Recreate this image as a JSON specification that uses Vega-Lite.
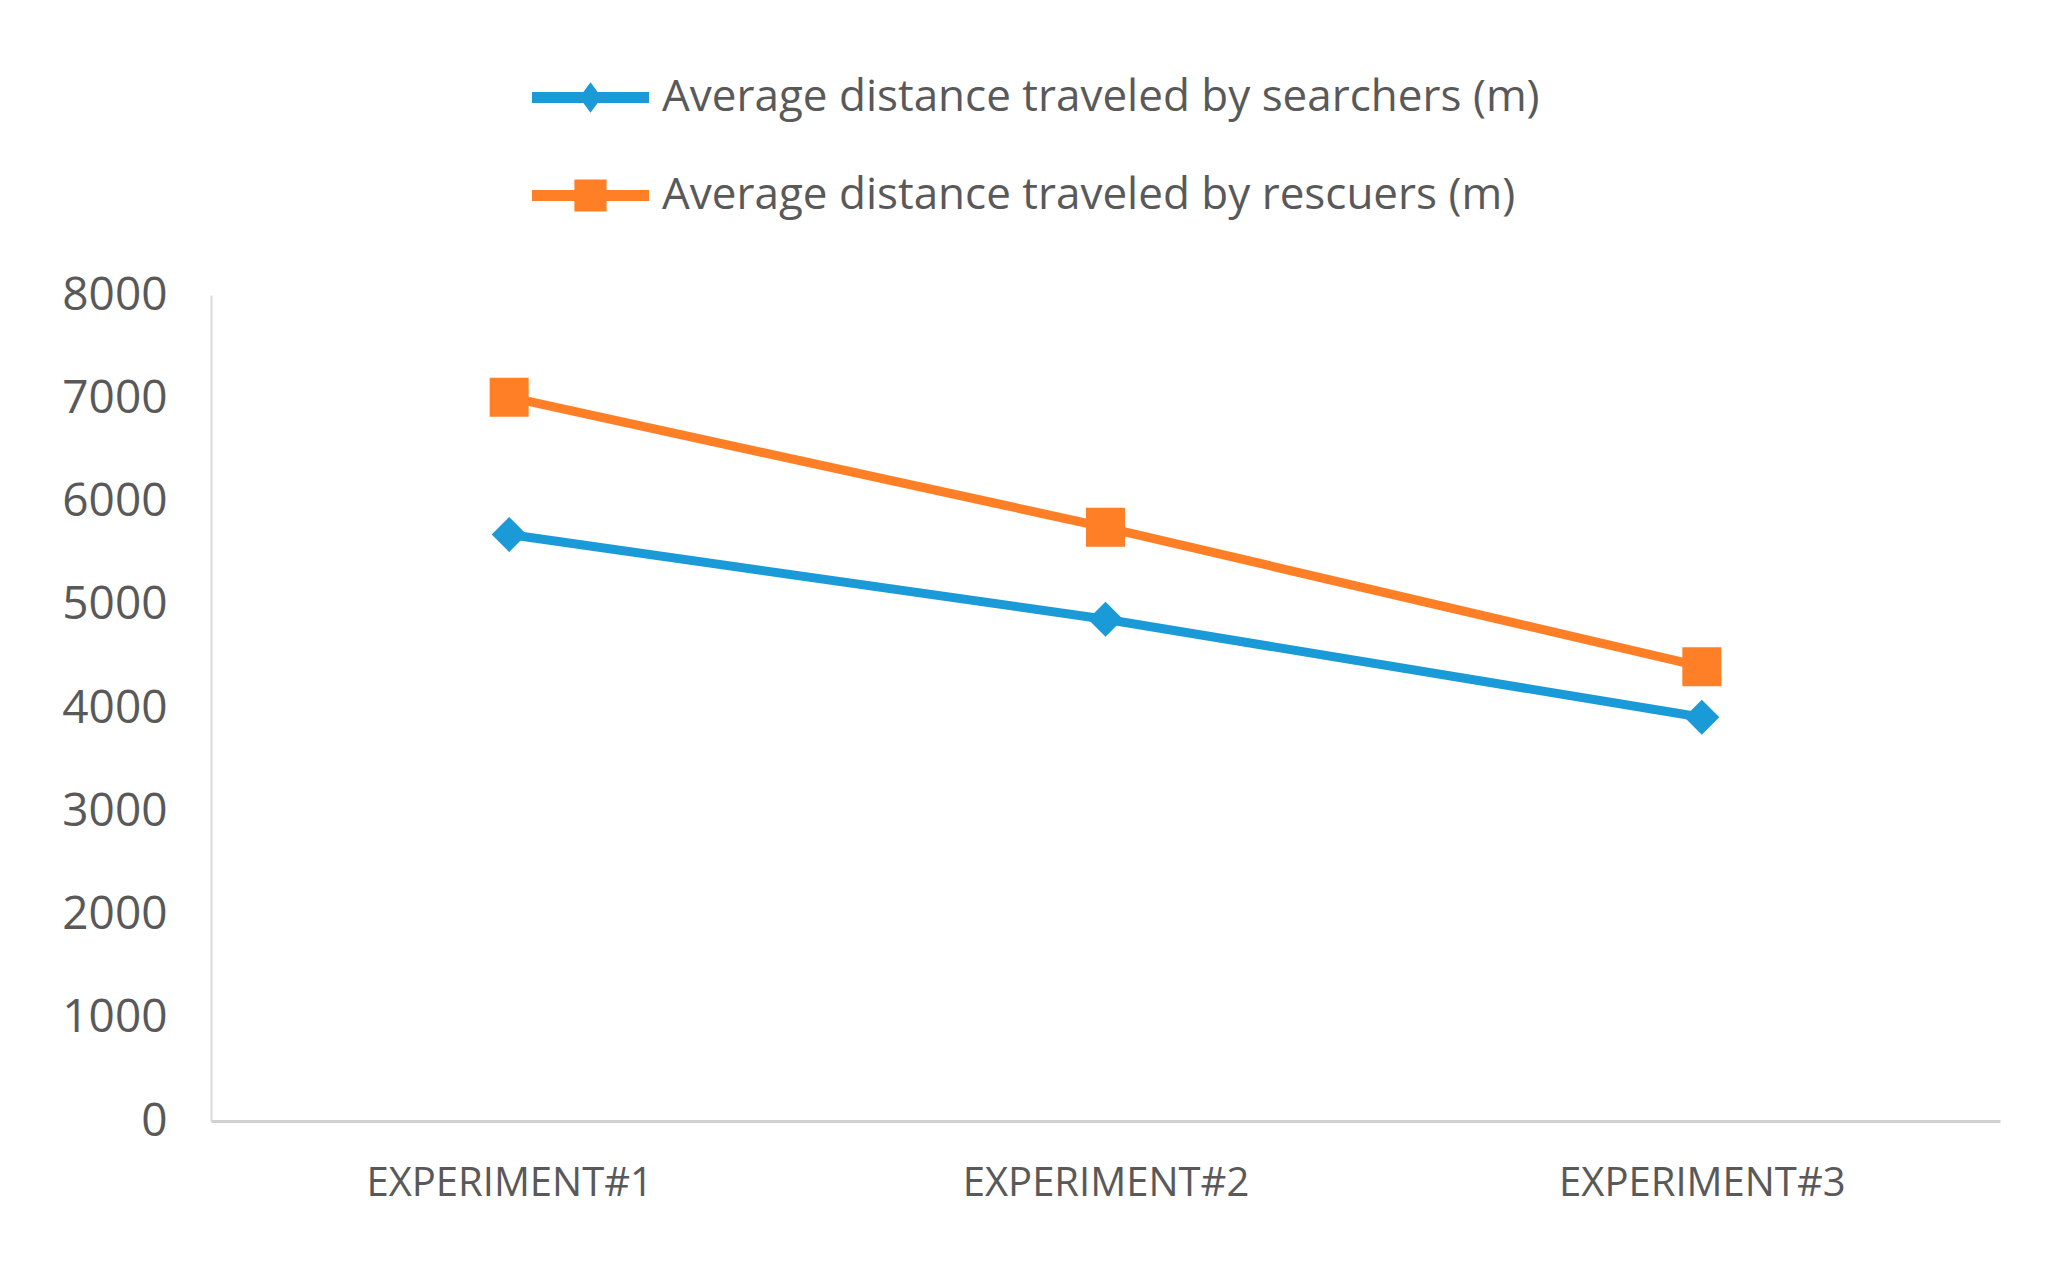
{
  "$schema": "https://vega.github.io/schema/vega-lite/v6.json",
  "description": "Average distance traveled by searchers and rescuers per experiment.",
  "width": 1789,
  "height": 826,
  "autosize": {"type": "none"},
  "padding": {"left": 211, "top": 295, "right": 70, "bottom": 142},
  "background": "white",
  "config": {
    "view": {"stroke": null},
    "font": "Open Sans",
    "axis": {
      "grid": false,
      "ticks": false,
      "tickSize": 0,
      "labelColor": "#595959",
      "labelFont": "Open Sans",
      "title": null
    }
  },
  "data": {
    "values": [
      {"experiment": "EXPERIMENT#1", "series": "Average distance traveled by searchers (m)", "distance": 5680},
      {"experiment": "EXPERIMENT#2", "series": "Average distance traveled by searchers (m)", "distance": 4860},
      {"experiment": "EXPERIMENT#3", "series": "Average distance traveled by searchers (m)", "distance": 3910},
      {"experiment": "EXPERIMENT#1", "series": "Average distance traveled by rescuers (m)", "distance": 7010},
      {"experiment": "EXPERIMENT#2", "series": "Average distance traveled by rescuers (m)", "distance": 5750},
      {"experiment": "EXPERIMENT#3", "series": "Average distance traveled by rescuers (m)", "distance": 4400}
    ]
  },
  "encoding": {
    "x": {
      "field": "experiment",
      "type": "nominal",
      "sort": null,
      "scale": {"type": "point", "padding": 0.5},
      "axis": {
        "labelAngle": 0,
        "labelFontSize": 40,
        "labelLimit": 1000,
        "labelPadding": 62,
        "labelBaseline": "middle",
        "domainColor": "#d0d0d0",
        "domainWidth": 3
      }
    },
    "y": {
      "field": "distance",
      "type": "quantitative",
      "scale": {"domain": [0, 8000], "nice": false},
      "axis": {
        "tickCount": 8,
        "format": "d",
        "labelFontSize": 46,
        "labelPadding": 44,
        "domainColor": "#d9d9d9",
        "domainWidth": 2
      }
    },
    "color": {
      "field": "series",
      "type": "nominal",
      "scale": {
        "domain": ["Average distance traveled by searchers (m)", "Average distance traveled by rescuers (m)"],
        "range": ["#1b9ad8", "#ff7f27"]
      },
      "legend": {
        "title": null,
        "orient": "none",
        "legendX": 350,
        "legendY": -227,
        "direction": "vertical",
        "padding": 0,
        "symbolSize": 3422,
        "labelFontSize": 44,
        "labelFont": "Open Sans",
        "labelColor": "#595959",
        "labelOffset": 42,
        "labelLimit": 1500,
        "rowPadding": 46,
        "encode": {
          "symbols": {
            "update": {
              "shape": {"signal": "datum.value === 'Average distance traveled by searchers (m)' ? 'M-2,-0.19H2V0.19H-2Z M0,-0.52L0.38,0L0,0.52L-0.38,0Z' : 'M-2,-0.19H2V0.19H-2Z M-0.55,-0.55H0.55V0.55H-0.55Z'"},
              "fill": {"scale": "color", "field": "value"},
              "stroke": {"value": "transparent"},
              "strokeWidth": {"value": 0},
              "opacity": {"value": 1}
            }
          }
        }
      }
    }
  },
  "layer": [
    {"mark": {"type": "line", "strokeWidth": 9}},
    {
      "transform": [{"filter": "datum.series === 'Average distance traveled by searchers (m)'"}],
      "mark": {"type": "point", "filled": true, "opacity": 1, "shape": "diamond", "size": 1225}
    },
    {
      "transform": [{"filter": "datum.series === 'Average distance traveled by rescuers (m)'"}],
      "mark": {"type": "point", "filled": true, "opacity": 1, "shape": "square", "size": 1521}
    }
  ]
}
